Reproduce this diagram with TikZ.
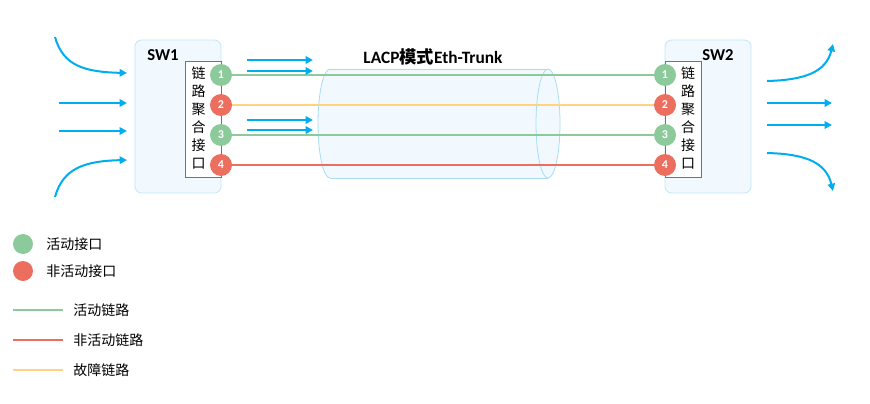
\documentclass[tikz,border=0pt]{standalone}
\usepackage{fontspec}
\setmainfont{Carlito}
\newfontfamily\cjk{Noto Sans CJK SC}
\usetikzlibrary{arrows.meta, positioning}
\definecolor{actgreen}{HTML}{8CC99B}
\definecolor{idlered}{HTML}{EB6E5F}
\definecolor{failyellow}{HTML}{FFD37F}
\definecolor{flowblue}{HTML}{00AEEF}
\definecolor{swfill}{HTML}{F2F9FE}
\definecolor{swline}{HTML}{BFE6F7}
\definecolor{tubeline}{HTML}{A8DDF5}

\begin{document}
\begin{tikzpicture}[
  x=0.75pt, y=-0.75pt,
  swbox/.style={draw=swline, fill=swfill, rounded corners=5pt,
                minimum width=64.5pt, minimum height=114.75pt, line width=0.6pt},
  portbox/.style={draw=black!55, fill=white, inner sep=0pt,
                  minimum width=27pt, minimum height=87pt, line width=0.5pt},
  porttxt/.style={font=\cjk\fontsize{10.5}{13.5}\selectfont, align=center, inner sep=0pt},
  swname/.style={font=\bfseries\fontsize{12.5}{14}\selectfont, inner sep=0pt},
  port/.style={circle, minimum size=16.5pt, inner sep=0pt, text=white,
               font=\bfseries\fontsize{9}{10}\selectfont},
  link/.style={line width=2pt},
  flow/.style={-{Triangle[length=5.5pt,width=5.5pt]}, line width=1.5pt, flowblue},
  legtxt/.style={anchor=west, font=\cjk\fontsize{10.5}{12}\selectfont, inner sep=0pt}
]
  \useasboundingbox (0,0) rectangle (870,403);

  % - Eth-Trunk tube -
  \fill[swfill] (330,69) rectangle (548,178);
  \fill[swfill] (330,123.5) ellipse [x radius=12, y radius=54.5];
  \fill[swfill] (548,123.5) ellipse [x radius=12, y radius=54.5];
  \begin{scope}
    \clip (300,60) rectangle (330,190);
    \draw[tubeline, line width=0.6pt] (330,123.5) ellipse [x radius=12, y radius=54.5];
  \end{scope}
  \draw[tubeline, line width=0.6pt] (548,123.5) ellipse [x radius=12, y radius=54.5];
  \draw[tubeline, line width=0.6pt] (330,69) -- (548,69) (330,178) -- (548,178);
  \node[font=\bfseries\fontsize{13}{15}\selectfont] (title) at (433,57)
    {LACP{\cjk 模式}Eth-Trunk};

  % - Switches -
  \node[swbox] (sw1) at (178,116.5) {};
  \node[swbox] (sw2) at (708,116.5) {};
  \node[swname] (sw1name) at (163,55) {SW1};
  \node[swname] (sw2name) at (718,55) {SW2};
  \node[portbox] (pb1) at (203,119) {};
  \node[portbox] (pb2) at (683,119) {};
  \node[porttxt] (pt1) at (198.5,118) {链\\路\\聚\\合\\接\\口};
  \node[porttxt] (pt2) at (688,118) {链\\路\\聚\\合\\接\\口};

  % - Ports -
  \node[port, fill=actgreen] (a1) at (221,75)  {1};
  \node[port, fill=idlered]  (a2) at (221,105) {2};
  \node[port, fill=actgreen] (a3) at (221,135) {3};
  \node[port, fill=idlered]  (a4) at (221,165) {4};
  \node[port, fill=actgreen] (b1) at (665,75)  {1};
  \node[port, fill=idlered]  (b2) at (665,105) {2};
  \node[port, fill=actgreen] (b3) at (665,135) {3};
  \node[port, fill=idlered]  (b4) at (665,165) {4};

  % - Links -
  \draw[link, actgreen]   (a1) -- (b1);
  \draw[link, failyellow] (a2) -- (b2);
  \draw[link, actgreen]   (a3) -- (b3);
  \draw[link, idlered]    (a4) -- (b4);

  % - Traffic -
  \draw[flow] (55,37) .. controls (63,66) and (85,72) .. (127,73);
  \draw[flow] (59,103) -- (127,103);
  \draw[flow] (59,131) -- (127,131);
  \draw[flow] (55,197) .. controls (63,168) and (85,161) .. (127,160);
  \draw[flow] (247,60) -- (313,60);
  \draw[flow] (247,71) -- (313,71);
  \draw[flow] (247,120) -- (313,120);
  \draw[flow] (247,130) -- (313,130);
  \draw[flow] (767,81) .. controls (805,80) and (826,72) .. (833,44);
  \draw[flow] (767,103) -- (832,103);
  \draw[flow] (767,125) -- (832,125);
  \draw[flow] (767,153) .. controls (805,154) and (826,162) .. (833,191);

  % - Legend -
  \node[circle, fill=actgreen, minimum size=15pt, inner sep=0pt] (lg1) at (23,244) {};
  \node[circle, fill=idlered, minimum size=15pt, inner sep=0pt]  (lg2) at (23,271) {};
  \node[legtxt] (lt1) at (46,244) {活动接口};
  \node[legtxt] (lt2) at (46,271) {非活动接口};
  \coordinate (la1) at (13,310); \coordinate (lb1) at (63,310);
  \coordinate (la2) at (13,340); \coordinate (lb2) at (63,340);
  \coordinate (la3) at (13,370); \coordinate (lb3) at (63,370);
  \draw[actgreen, line width=1.6pt]   (la1) -- (lb1);
  \draw[idlered, line width=1.6pt]    (la2) -- (lb2);
  \draw[failyellow, line width=1.6pt] (la3) -- (lb3);
  \node[legtxt] (lt3) at (73,310) {活动链路};
  \node[legtxt] (lt4) at (73,340) {非活动链路};
  \node[legtxt] (lt5) at (73,370) {故障链路};
\end{tikzpicture}
\end{document}
